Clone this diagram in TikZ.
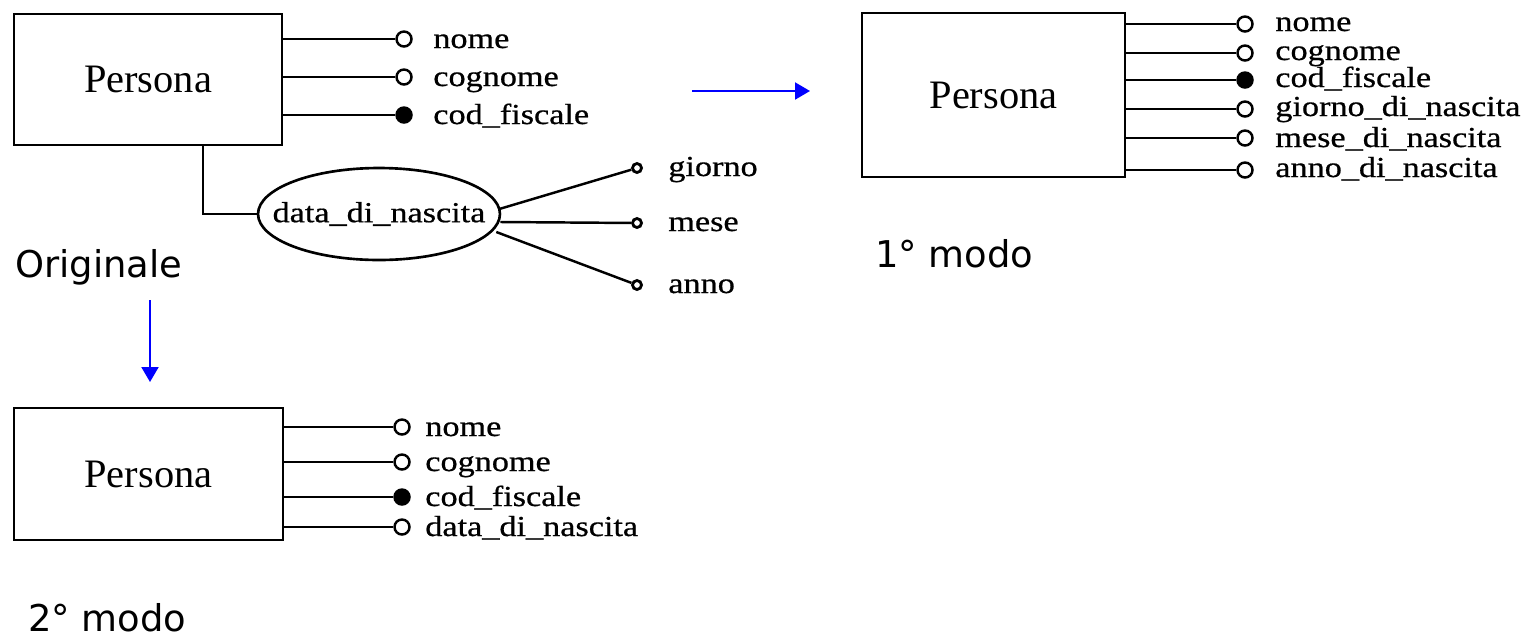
\documentclass[tikz,border=0pt]{standalone}
\usepackage{graphicx}
\usepackage{fontspec}
\setmainfont{Liberation Serif}
\newfontfamily\labfont{Liberation Serif}[FakeBold=0.6]
\newfontfamily\capfont{DejaVu Sans}
\usetikzlibrary{shapes.geometric,arrows.meta,calc}
\newcommand\sx[1]{\scalebox{1.18}[1]{#1}}
\begin{document}
\begin{tikzpicture}[x=0.02cm,y=-0.02cm,
  ent/.style={draw,line width=1.6pt,inner sep=0pt,font=\fontsize{23}{25}\selectfont},
  con/.style={line width=1.4pt},
  oc/.style={circle,draw,line width=1.4pt,fill=white,inner sep=0pt,minimum size=0.3cm},
  fc/.style={oc,fill=black},
  sc/.style={circle,draw,line width=1.6pt,fill=white,inner sep=0pt,minimum size=0.18cm},
  lab/.style={anchor=base west,inner sep=0pt,font=\labfont\fontsize{16.5}{18}\selectfont},
  captext/.style={anchor=base west,inner sep=0pt,font=\capfont\fontsize{21}{23}\selectfont},
  barrow/.style={blue,line width=1.2pt,-{Triangle[length=0.3cm,width=0.34cm]}}]

\useasboundingbox (0,0) rectangle (1535,640);

% ---------------- Originale ----------------
\node[ent,minimum width=5.36cm,minimum height=2.62cm] (p0) at (148,79.5) {Persona};
\node[oc] (o1) at (404,39) {};
\node[oc] (o2) at (404,77) {};
\node[fc] (o3) at (404,115) {};
\draw[con] (p0.east |- o1) -- (o1);
\draw[con] (p0.east |- o2) -- (o2);
\draw[con] (p0.east |- o3) -- (o3);
\node[lab] (l1) at (433,48) {\sx{nome}};
\node[lab] (l2) at (433,86) {\sx{cognome}};
\node[lab] (l3) at (433,124) {\sx{cod\_fiscale}};

\coordinate (v0) at (203,0);
\node[draw,ellipse,line width=1.5pt,minimum width=4.84cm,minimum height=1.84cm,inner sep=0pt,
      font=\labfont\fontsize{16.5}{18}\selectfont] (e0) at (379,214) {\makebox[0pt]{\sx{data\_di\_nascita}}};
\draw[con] (v0 |- p0.south) |- (e0.west);

\node[sc] (s1) at (637,168) {};
\node[sc] (s2) at (637,223) {};
\node[sc] (s3) at (637,285) {};
\draw[con] ($(e0.east)+(-2,-5)$) -- (s1);
\draw[con] ($(e0.east)+(-1,8)$) -- (s2);
\draw[con] ($(e0.east)+(-5,18)$) -- (s3);
\node[lab] (g1) at (668,176) {\sx{giorno}};
\node[lab] (g2) at (668,231) {\sx{mese}};
\node[lab] (g3) at (668,293) {\sx{anno}};

\node[captext] (c0) at (15,277) {Originale};

% ---------------- 1° modo ----------------
\node[ent,minimum width=5.26cm,minimum height=3.28cm] (p1) at (993.5,95) {Persona};
\node[oc] (q1) at (1245,24) {};
\node[oc] (q2) at (1245,53) {};
\node[fc] (q3) at (1245,80) {};
\node[oc] (q4) at (1245,109) {};
\node[oc] (q5) at (1245,138) {};
\node[oc] (q6) at (1245,170) {};
\foreach \i in {1,...,6} {\draw[con] (p1.east |- q\i) -- (q\i);}
\node[lab] (m1) at (1275,31) {\sx{nome}};
\node[lab] (m2) at (1275,60) {\sx{cognome}};
\node[lab] (m3) at (1275,87) {\sx{cod\_fiscale}};
\node[lab] (m4) at (1275,116) {\sx{giorno\_di\_nascita}};
\node[lab] (m5) at (1275,147) {\sx{mese\_di\_nascita}};
\node[lab] (m6) at (1275,177) {\sx{anno\_di\_nascita}};

\node[captext] (c1) at (875,267) {1° modo};

% ---------------- 2° modo ----------------
\node[ent,minimum width=5.38cm,minimum height=2.64cm] (p2) at (148.5,474) {Persona};
\node[oc] (r1) at (402,427) {};
\node[oc] (r2) at (402,462) {};
\node[fc] (r3) at (402,497) {};
\node[oc] (r4) at (402,527) {};
\foreach \i in {1,...,4} {\draw[con] (p2.east |- r\i) -- (r\i);}
\node[lab] (n1) at (425,436) {\sx{nome}};
\node[lab] (n2) at (425,471) {\sx{cognome}};
\node[lab] (n3) at (425,506) {\sx{cod\_fiscale}};
\node[lab] (n4) at (425,536) {\sx{data\_di\_nascita}};

\node[captext] (c2) at (28,631) {2° modo};

% ---------------- arrows ----------------
\coordinate (a1s) at (692,91);
\coordinate (a1e) at (810,91);
\draw[barrow] (a1s) -- (a1e);
\coordinate (a2s) at (150,300);
\coordinate (a2e) at (150,382);
\draw[barrow] (a2s) -- (a2e);
\end{tikzpicture}
\end{document}
